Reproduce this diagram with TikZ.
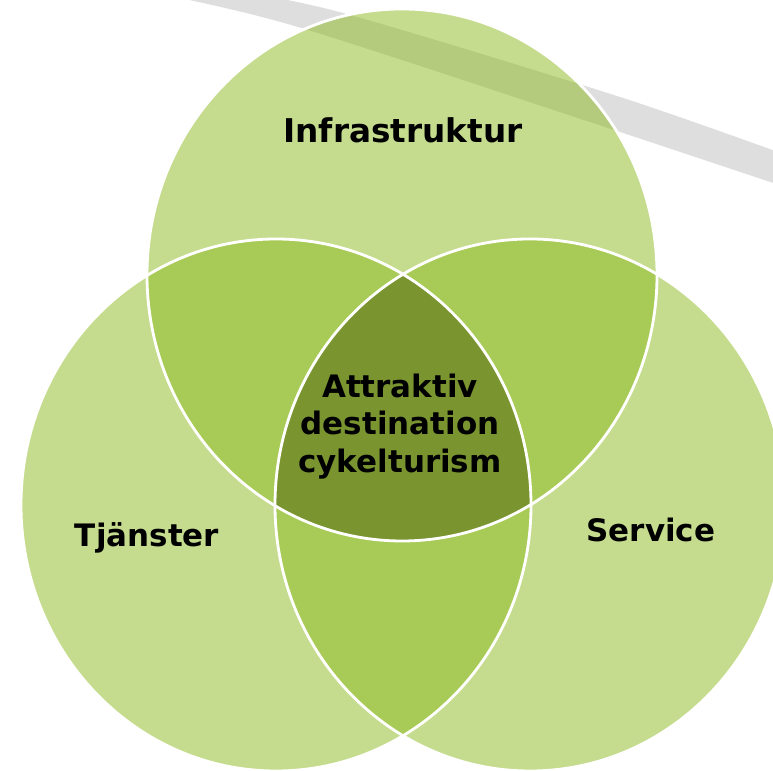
\documentclass[tikz,border=0pt]{standalone}
\usepackage{fontspec}
\newfontfamily\vennfont{DejaVu Sans}
\definecolor{venngreen}{RGB}{140,185,30}
\definecolor{vennolive}{RGB}{122,148,48}
\definecolor{bandgray}{RGB}{222,222,222}

\begin{document}
\begin{tikzpicture}[x=0.01cm,y=-0.01cm,
  vennset/.style={fill=venngreen,fill opacity=0.5},
  rim/.style={draw=white,line width=0.8pt},
  vennlabel/.style={font=\vennfont\bfseries\fontsize{8.8}{10.7}\selectfont,inner sep=0pt,text=black}]
\clip (0,0) rectangle (773,771);
\coordinate (top) at (402,275);
\coordinate (left) at (276,505);
\coordinate (right) at (530,505);

\fill[bandgray] plot[smooth] coordinates {(150,-8) (298,27) (620,132) (800,192)}
  -- plot[smooth] coordinates {(800,160) (620,97) (343,13) (220,-12)} -- cycle;

\fill[vennset] (top) ellipse [x radius=255,y radius=266];
\fill[vennset] (left) ellipse [x radius=255,y radius=266];
\fill[vennset] (right) ellipse [x radius=255,y radius=266];
\begin{scope}
\clip (top) ellipse [x radius=255,y radius=266];
\clip (left) ellipse [x radius=255,y radius=266];
\fill[vennolive] (right) ellipse [x radius=255,y radius=266];
\end{scope}
\draw[rim] (top) ellipse [x radius=255,y radius=266];
\draw[rim] (left) ellipse [x radius=255,y radius=266];
\draw[rim] (right) ellipse [x radius=255,y radius=266];

\node[vennlabel,font=\vennfont\bfseries\fontsize{9.3}{11}\selectfont,anchor=base] (infra) at (403,143) {Infrastruktur};
\node[vennlabel,anchor=base] (tjanster) at (147,547) {Tjänster};
\node[vennlabel,anchor=base] (service) at (651,542) {Service};
\node[vennlabel,align=center,anchor=north] (goal) at (400,373) {Attraktiv\\destination\\cykelturism};
\end{tikzpicture}
\end{document}
